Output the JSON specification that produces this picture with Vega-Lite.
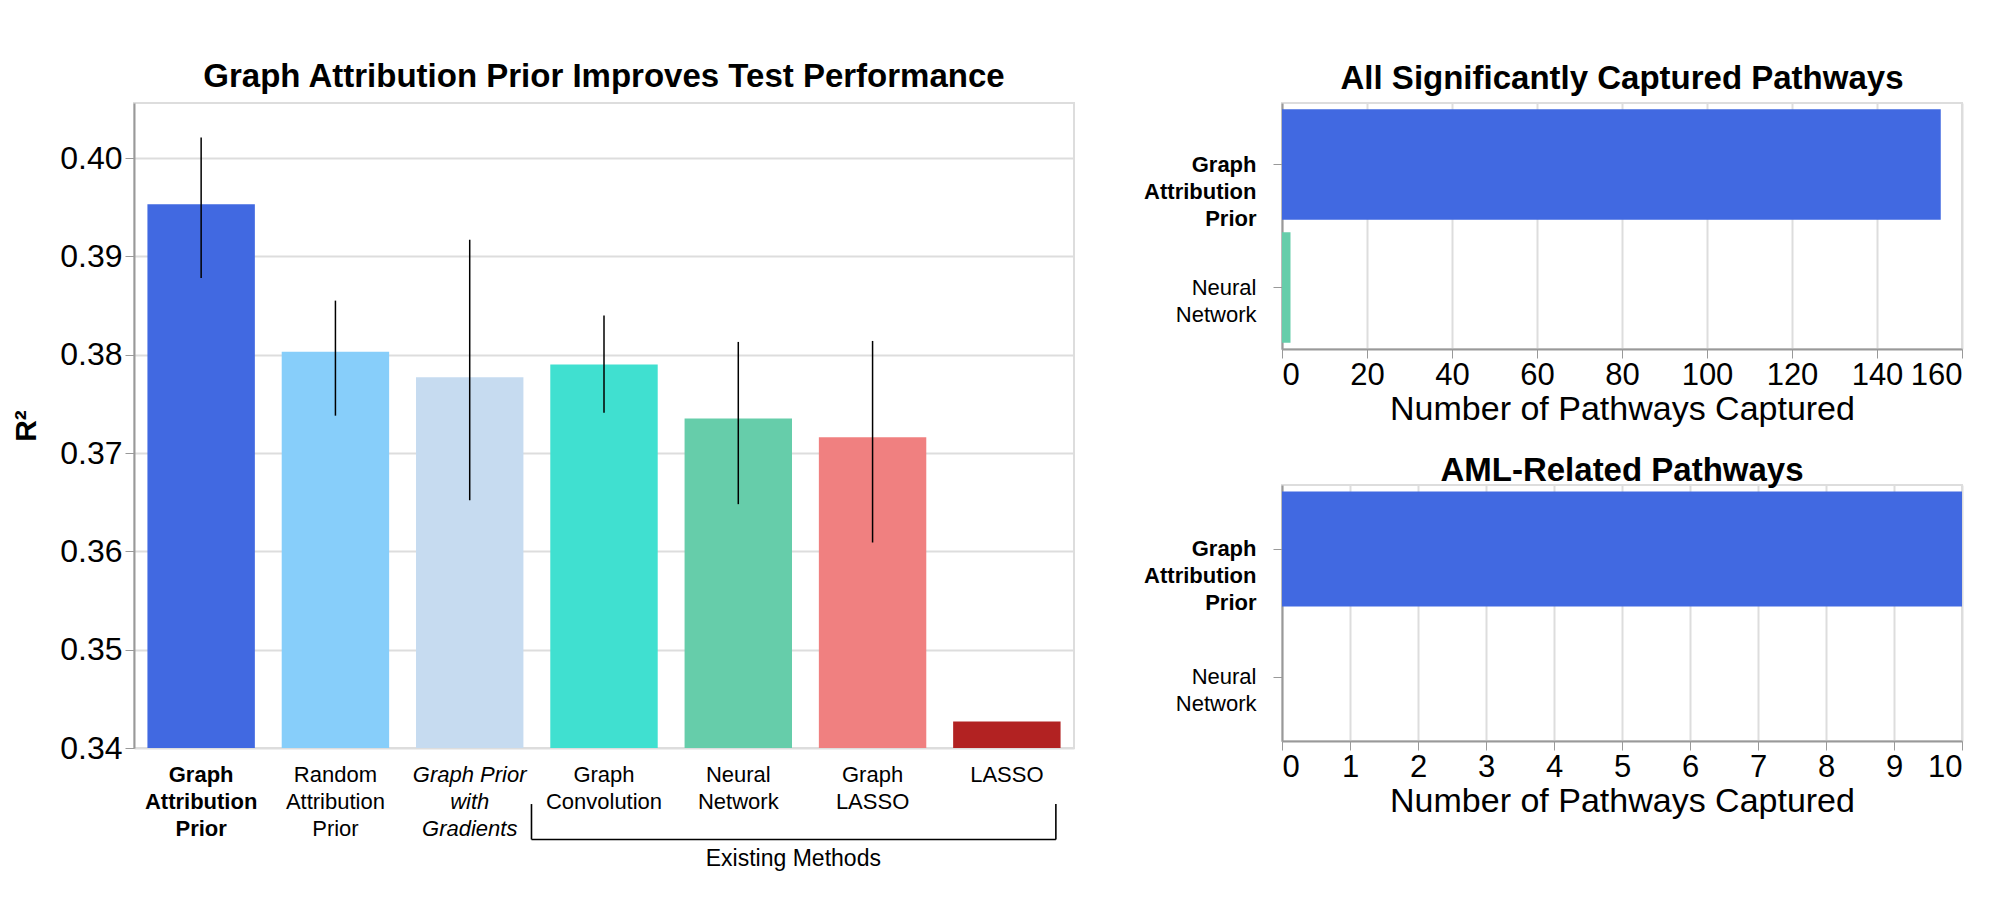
{
  "$schema": "https://vega.github.io/schema/vega-lite/v6.json",
  "padding": {"left": 10, "top": 52, "right": 5, "bottom": 5},
  "background": "white",
  "spacing": 67,
  "align": "none",
  "hconcat": [
    {
      "vconcat": [
        {
          "width": 940,
          "height": 645,
          "title": {"text": [" ", "Graph Attribution Prior Improves Test Performance"], "lineHeight": 8, "fontSize": 33, "font": "Liberation Sans", "fontWeight": "bold", "color": "black", "offset": 9},
          "layer": [
            {
              "data": {"values": [
                {"method": "Graph|Attribution|Prior", "r2": 0.3953, "lo": 0.3878, "hi": 0.4021},
                {"method": "Random|Attribution|Prior", "r2": 0.3803, "lo": 0.3738, "hi": 0.3855},
                {"method": "Graph Prior|with|Gradients", "r2": 0.3777, "lo": 0.3652, "hi": 0.3917},
                {"method": "Graph|Convolution", "r2": 0.3790, "lo": 0.3741, "hi": 0.3840},
                {"method": "Neural|Network", "r2": 0.3735, "lo": 0.3648, "hi": 0.3813},
                {"method": "Graph|LASSO", "r2": 0.3716, "lo": 0.3609, "hi": 0.3814},
                {"method": "LASSO", "r2": 0.3427}
              ]},
              "encoding": {
                "x": {
                  "field": "method", "type": "nominal", "sort": null,
                  "scale": {"paddingInner": 0.2, "paddingOuter": 0.1},
                  "axis": {
                    "title": null, "labelAngle": 0, "labelExpr": "split(datum.label, '|')",
                    "labelFont": "Liberation Sans", "labelFontSize": 22, "labelLineHeight": 27,
                    "labelColor": "black", "ticks": false, "domain": false, "labelPadding": 16,
                    "labelBaseline": "top", "labelLimit": 0,
                    "labelFontWeight": {"condition": {"test": "datum.value === 'Graph|Attribution|Prior'", "value": "bold"}, "value": "normal"},
                    "labelFontStyle": {"condition": {"test": "datum.value === 'Graph Prior|with|Gradients'", "value": "italic"}, "value": "normal"}
                  }
                },
                "y": {
                  "type": "quantitative",
                  "scale": {"domain": [0.34, 0.4056], "zero": false, "nice": false},
                  "axis": {
                    "title": "R²", "titleFontSize": 30, "titleFont": "Liberation Sans", "titleFontWeight": "bold",
                    "titleColor": "black", "titlePadding": 18,
                    "values": [0.34, 0.35, 0.36, 0.37, 0.38, 0.39, 0.40], "format": ".2f",
                    "labelFontSize": 32, "labelFont": "Liberation Sans", "labelColor": "black",
                    "tickSize": 9, "tickColor": "#999", "domainColor": "#999", "domainWidth": 2,
                    "gridColor": "#dddddd", "gridWidth": 2, "labelPadding": 3
                  }
                }
              },
              "layer": [
                {
                  "mark": {"type": "bar"},
                  "encoding": {
                    "y": {"field": "r2"},
                    "y2": {"datum": 0.34},
                    "color": {
                      "field": "method", "type": "nominal",
                      "scale": {
                        "domain": ["Graph|Attribution|Prior", "Random|Attribution|Prior", "Graph Prior|with|Gradients", "Graph|Convolution", "Neural|Network", "Graph|LASSO", "LASSO"],
                        "range": ["#4169E1", "#87CEFA", "#C6DBF0", "#40E0D0", "#66CDAA", "#F08080", "#B22222"]
                      },
                      "legend": null
                    }
                  }
                },
                {
                  "mark": {"type": "rule", "color": "black", "strokeWidth": 1.5},
                  "encoding": {"y": {"field": "lo"}, "y2": {"field": "hi"}}
                }
              ]
            },
            {
              "layer": [
                {
                  "data": {"values": [
                    {"bx": 2.96, "bx2": 2.96, "by": 0.3343, "by2": 0.33070},
                    {"bx": 2.96, "bx2": 6.865, "by": 0.33070, "by2": 0.33070},
                    {"bx": 6.865, "bx2": 6.865, "by": 0.3343, "by2": 0.33070}
                  ]},
                  "mark": {"type": "rule", "color": "black", "strokeWidth": 1.6},
                  "encoding": {
                    "x": {"field": "bx", "type": "quantitative", "scale": {"domain": [0, 7], "nice": false, "zero": false}, "axis": null},
                    "x2": {"field": "bx2"},
                    "y": {"field": "by", "type": "quantitative"},
                    "y2": {"field": "by2"}
                  }
                },
                {
                  "data": {"values": [{"note": "Existing Methods", "bx": 4.91, "by": 0.32870}]},
                  "mark": {"type": "text", "font": "Liberation Sans", "fontSize": 23, "color": "black", "baseline": "middle", "align": "center"},
                  "encoding": {
                    "x": {"field": "bx", "type": "quantitative", "axis": null},
                    "y": {"field": "by", "type": "quantitative"},
                    "text": {"field": "note"}
                  }
                }
              ]
            }
          ],
          "resolve": {"scale": {"x": "independent"}, "axis": {"x": "independent"}}
        }
      ]
    },
    {
      "spacing": 27,
      "vconcat": [
        {
          "width": 680,
          "height": 246,
          "title": {"text": "All Significantly Captured Pathways", "fontSize": 33, "font": "Liberation Sans", "fontWeight": "bold", "color": "black", "offset": 7},
          "data": {"values": [
            {"method": "Graph|Attribution|Prior", "count": 155},
            {"method": "Neural|Network", "count": 2}
          ]},
          "mark": "bar",
          "encoding": {
            "y": {
              "field": "method", "type": "nominal", "sort": null,
              "scale": {"paddingInner": 0.1, "paddingOuter": 0.05},
              "axis": {
                "title": null, "labelExpr": "split(datum.label, '|')",
                "labelFont": "Liberation Sans", "labelFontSize": 22, "labelLineHeight": 27,
                "labelColor": "black", "labelLimit": 0, "labelPadding": 17,
                "tickSize": 9, "tickColor": "#999", "domainColor": "#999", "domainWidth": 2,
                "labelFontWeight": {"condition": {"test": "datum.value === 'Graph|Attribution|Prior'", "value": "bold"}, "value": "normal"}
              }
            },
            "x": {
              "field": "count", "type": "quantitative",
              "scale": {"domain": [0, 160], "nice": false},
              "axis": {
                "title": "Number of Pathways Captured", "values": [0, 20, 40, 60, 80, 100, 120, 140, 160],
                "labelFont": "Liberation Sans", "labelFontSize": 31, "labelColor": "black",
                "titleFont": "Liberation Sans", "titleFontSize": 34, "titleFontWeight": "normal", "titleColor": "black",
                "tickSize": 9, "tickColor": "#999", "domainColor": "#999", "domainWidth": 2,
                "gridColor": "#dddddd", "gridWidth": 2, "labelPadding": 2, "titlePadding": 2
              }
            },
            "color": {
              "field": "method", "type": "nominal",
              "scale": {"domain": ["Graph|Attribution|Prior", "Neural|Network"], "range": ["#4A6BDB", "#66CDAA"]},
              "legend": null
            }
          }
        },
        {
          "width": 680,
          "height": 256,
          "title": {"text": "AML-Related Pathways", "fontSize": 33, "font": "Liberation Sans", "fontWeight": "bold", "color": "black", "offset": -3},
          "data": {"values": [
            {"method": "Graph|Attribution|Prior", "count": 10},
            {"method": "Neural|Network", "count": 0}
          ]},
          "mark": "bar",
          "encoding": {
            "y": {
              "field": "method", "type": "nominal", "sort": null,
              "scale": {"paddingInner": 0.1, "paddingOuter": 0.05},
              "axis": {
                "title": null, "labelExpr": "split(datum.label, '|')",
                "labelFont": "Liberation Sans", "labelFontSize": 22, "labelLineHeight": 27,
                "labelColor": "black", "labelLimit": 0, "labelPadding": 17,
                "tickSize": 9, "tickColor": "#999", "domainColor": "#999", "domainWidth": 2,
                "labelFontWeight": {"condition": {"test": "datum.value === 'Graph|Attribution|Prior'", "value": "bold"}, "value": "normal"}
              }
            },
            "x": {
              "field": "count", "type": "quantitative",
              "scale": {"domain": [0, 10], "nice": false},
              "axis": {
                "title": "Number of Pathways Captured", "values": [0, 1, 2, 3, 4, 5, 6, 7, 8, 9, 10],
                "labelFont": "Liberation Sans", "labelFontSize": 31, "labelColor": "black",
                "titleFont": "Liberation Sans", "titleFontSize": 34, "titleFontWeight": "normal", "titleColor": "black",
                "tickSize": 9, "tickColor": "#999", "domainColor": "#999", "domainWidth": 2,
                "gridColor": "#dddddd", "gridWidth": 2, "labelPadding": 2, "titlePadding": 2
              }
            },
            "color": {
              "field": "method", "type": "nominal",
              "scale": {"domain": ["Graph|Attribution|Prior", "Neural|Network"], "range": ["#4A6BDB", "#66CDAA"]},
              "legend": null
            }
          }
        }
      ]
    }
  ],
  "config": {
    "view": {"stroke": "#dddddd", "strokeWidth": 2},
    "font": "Liberation Sans"
  }
}
